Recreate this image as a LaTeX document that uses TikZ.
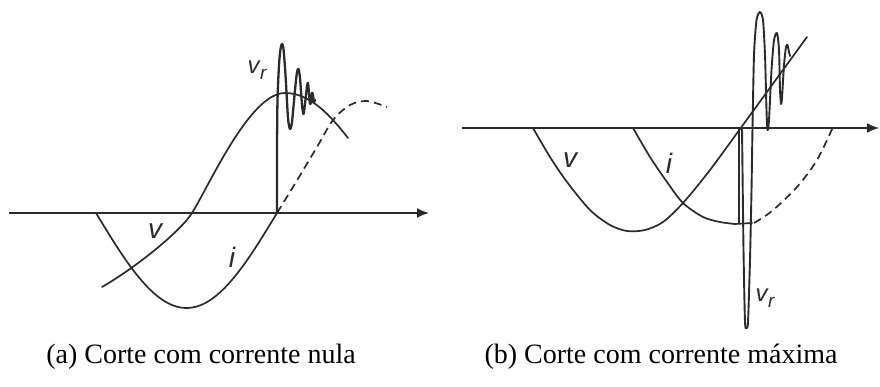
\documentclass[tikz,border=0pt]{standalone}
\usepackage{fontspec}
\setmainfont{Liberation Serif}
\newfontfamily\labfont{Liberation Sans}
\usetikzlibrary{arrows.meta}
\definecolor{ink}{HTML}{2B2B2B}
\tikzset{
  curve/.style={draw=ink, line width=1.7pt, line join=round, line cap=round},
  dashcurve/.style={curve, line cap=butt, dash pattern=on 8pt off 5pt},
  wave/.style={curve, line width=2.3pt},
  axisline/.style={draw=ink, line width=1.7pt, -{Latex[length=12pt,width=10pt]}},
  lab/.style={text=ink, inner sep=0pt, font=\labfont\itshape\fontsize{28}{28}\selectfont},
  sublab/.style={text=ink, inner sep=0pt, font=\labfont\itshape\fontsize{24}{24}\selectfont},
  captext/.style={inner sep=0pt, font=\fontsize{28}{28}\selectfont},
}
\newcommand{\vrlabel}{v\kern0.5pt\raisebox{-6pt}{\fontsize{19}{19}\selectfont r}}
\begin{document}
\begin{tikzpicture}[x=1pt,y=-1pt]
\useasboundingbox (0,0) rectangle (880,387);
% ---------- panel (a) ----------
\coordinate (a0) at (9,213);
\coordinate (a1) at (429,213);
\draw[axisline] (a0) -- (a1);
% current i
\draw[curve] plot[domain=96:277, samples=70, smooth] (\x, {213+95*sin((\x-96)/181*180)});
\draw[dashcurve] plot[smooth] coordinates {(277,213) (293,187) (317,147) (333,120) (350,105) (367,101) (387,107)};
% voltage v
\draw[curve] (102,287) .. controls (135,268) and (180,232) .. (192,213)
  .. controls (210,184) and (250,93) .. (285,93)
  .. controls (310,93) and (330,115) .. (348,138);
% recovery voltage
\draw[wave] plot[smooth,tension=0.45] coordinates {(277,213) (277,150) (277.5,100) (279,65) (280.5,49) (282,44) (283.5,49) (285.5,75) (288,118) (290,129) (292,122) (295,90) (297,72) (298.5,69) (300,78) (302,105) (303.5,114) (305,104) (307,86) (308,83) (309,93) (310,104) (311,102) (312,93) (313,95) (314,102) (315,100)};
\node[lab] (va) at (155,231) {v};
\node[lab] (ia) at (232,257) {i};
\node[sublab] (vra) at (257,70) {\vrlabel};
\node[captext] (capa) at (201,357) {(a) Corte com corrente nula};
% ---------- panel (b) ----------
\coordinate (b0) at (462,128);
\coordinate (b1) at (879,128);
\draw[axisline] (b0) -- (b1);
% voltage v
\draw[curve] plot[smooth] coordinates {(533,128) (550,157) (567,182) (590,210) (610,225) (627,231) (645,230) (663,222) (683,203) (710,170) (740,129)} -- (807,37);
% current i
\draw[curve] plot[smooth] coordinates {(633,128) (650,157) (667,182) (683,203) (703,217) (720,222) (735,224)} -- (752,223);
\draw[dashcurve] plot[smooth] coordinates {(754,223) (772,211) (797,187) (817,160) (833,127)};
% recovery voltage
\draw[curve] (739,128) -- (739,223);
\draw[curve, line width=1.9pt] plot[smooth,tension=0.4] coordinates {(742,128) (743.5,250) (745,322) (746.5,328) (748,322) (750,260) (751.5,190) (752.5,128) (754,55) (756.5,20) (760,12) (763,20) (765,55) (766.5,110) (767.5,130) (769,120) (771.5,70) (774,40) (777,33) (779,50) (780,90) (781,104) (782,98) (784,65) (786,47) (787.5,45) (789,52) (790,56)};
\node[lab] (vb) at (570,160) {v};
\node[lab] (ib) at (669,163) {i};
\node[sublab] (vrb) at (765,298) {\vrlabel};
\node[captext] (capb) at (661,357) {(b) Corte com corrente máxima};
\end{tikzpicture}
\end{document}
